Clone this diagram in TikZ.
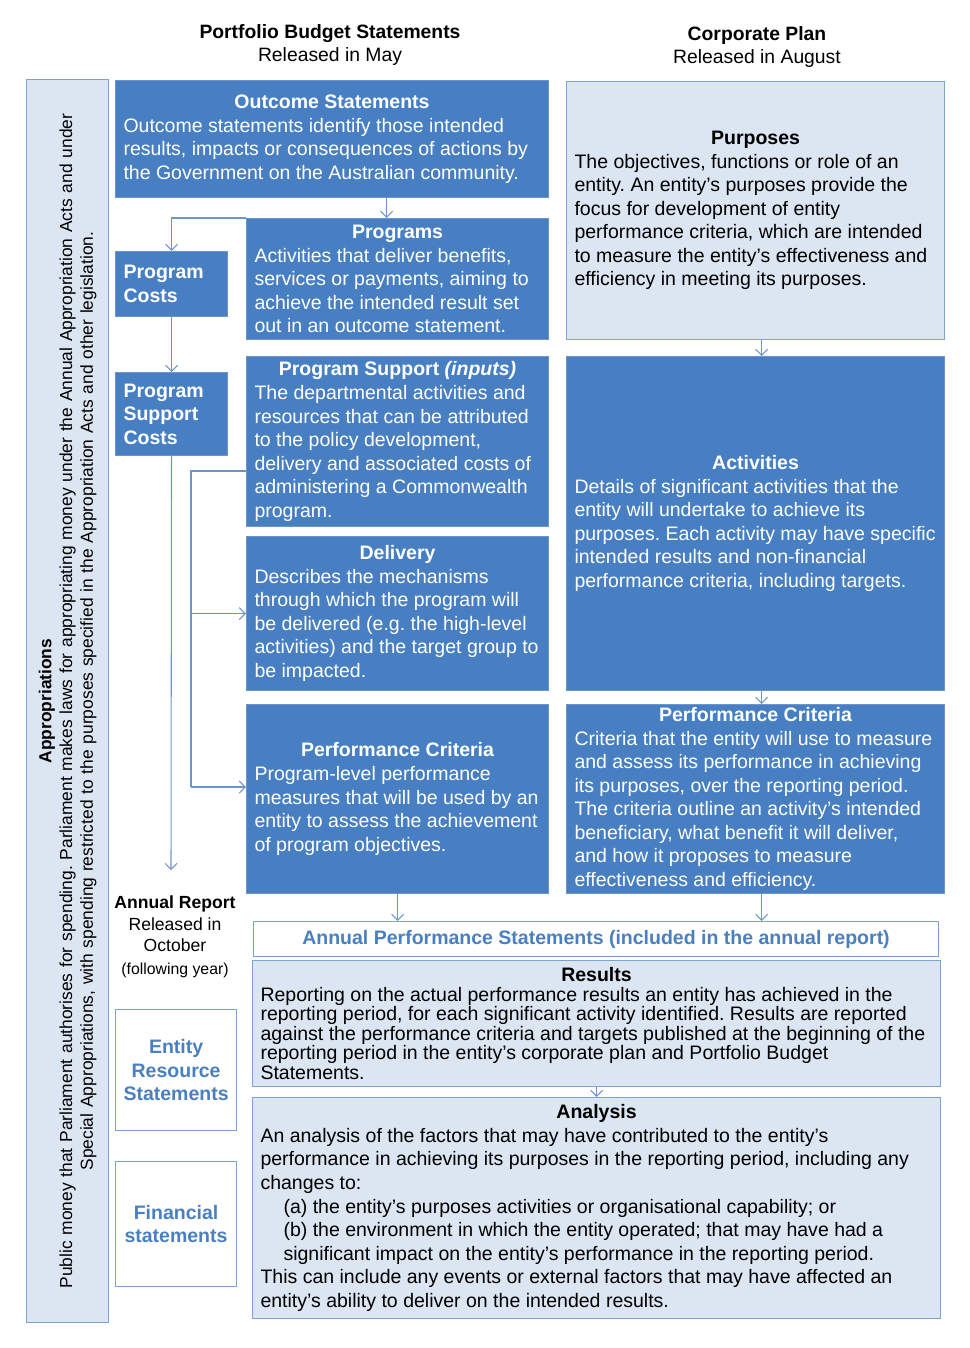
\documentclass[tikz,border=0pt]{standalone}
\usepackage{fontspec}
\setmainfont{Liberation Sans}
\usetikzlibrary{arrows.meta,positioning}
\definecolor{dkblue}{HTML}{477FC2}
\definecolor{ltblue}{HTML}{DCE6F2}
\definecolor{edgeblue}{HTML}{7EA3D2}
\definecolor{lineblue}{HTML}{6B96CD}
\definecolor{txtblue}{HTML}{4A7FC0}
\newcommand{\hd}[1]{\makebox[\linewidth]{\bfseries #1}}
\newcommand{\bodyfont}{\fontsize{11.1}{13.4}\selectfont}
\frenchspacing

\begin{document}
\begin{tikzpicture}[x=0.2mm, y=-0.2mm,
  box/.style={draw=edgeblue, line width=0.6pt, anchor=north west,
    inner xsep=1.6mm, inner ysep=0.5mm, align=flush left, font=\bodyfont},
  dark/.style={box, fill=dkblue, draw=lineblue, text=white},
  light/.style={box, fill=ltblue},
  plain/.style={box, fill=white, text=txtblue, align=center,
    font=\bodyfont\bfseries},
  head/.style={align=center, font=\fontsize{11}{13.4}\selectfont},
  link/.style={draw=lineblue, line width=0.6pt},
  arr/.style={link, -{Straight Barb[length=1.2mm, width=2.4mm]}},
]
\useasboundingbox (0,0) rectangle (970,1348);

% --- Column titles ---
\node[head] (pbs) at (330,45) {\textbf{Portfolio Budget Statements}\\Released in May};
\node[head] (cp) at (757,47) {\textbf{Corporate Plan}\\Released in August};

% --- Appropriations band ---
\node[light, minimum width=16.4mm, minimum height=248.6mm] (approp) at (26,79) {};
\node[rotate=90, align=center, font=\fontsize{9.9}{11.8}\selectfont, text width=244mm] (apptext) at (approp.center)
  {\textbf{Appropriations}\\
   Public money that Parliament authorises for spending. Parliament makes laws for appropriating money under the Annual Appropriation Acts and under\\
   Special Appropriations, with spending restricted to the purposes specified in the Appropriation Acts and other legislation.};

% --- Portfolio Budget Statements column ---
\node[dark, minimum width=86.6mm, minimum height=23.4mm, text width=83.4mm] (outcome) at (115,80)
  {\hd{Outcome Statements}\\
   Outcome statements identify those intended\\
   results, impacts or consequences of actions by\\
   the Government on the Australian community.};
\node[dark, minimum width=60.4mm, minimum height=24.2mm, text width=57.2mm] (programs) at (246,218)
  {\hd{Programs}\\
   Activities that deliver benefits,\\
   services or payments, aiming to\\
   achieve the intended result set\\
   out in an outcome statement.};
\node[dark, minimum width=22.4mm, minimum height=13mm, text width=19.2mm,
  font=\bodyfont\bfseries] (costs) at (115,251) {Program\\Costs};
\node[dark, minimum width=60.4mm, minimum height=34mm, text width=57.2mm] (support) at (246,356)
  {\hd{Program Support \textit{(inputs)}}\\
   The departmental activities and\\
   resources that can be attributed\\
   to the policy development,\\
   delivery and associated costs of\\
   administering a Commonwealth\\
   program.};
\node[dark, minimum width=22.4mm, minimum height=16.6mm, text width=19.2mm,
  font=\bodyfont\bfseries] (supcosts) at (115,372) {Program\\Support\\Costs};
\node[dark, minimum width=60.4mm, minimum height=30.8mm, text width=57.2mm] (delivery) at (246,536)
  {\hd{Delivery}\\
   Describes the mechanisms\\
   through which the program will\\
   be delivered (e.g. the high-level\\
   activities) and the target group to\\
   be impacted.};
\node[dark, minimum width=60.4mm, minimum height=37.8mm, text width=57.2mm] (pcprog) at (246,704)
  {\hd{Performance Criteria}\\
   Program-level performance\\
   measures that will be used by an\\
   entity to assess the achievement\\
   of program objectives.};

% --- Corporate Plan column ---
\node[light, minimum width=75.6mm, minimum height=51.6mm, text width=72.4mm] (purposes) at (566,81)
  {\hd{Purposes}\\
   The objectives, functions or role of an\\
   entity. An entity’s purposes provide the\\
   focus for development of entity\\
   performance criteria, which are intended\\
   to measure the entity’s effectiveness and\\
   efficiency in meeting its purposes.};
\node[dark, minimum width=75.6mm, minimum height=66.8mm, text width=72.4mm] (activities) at (566,356)
  {\hd{Activities}\\
   Details of significant activities that the\\
   entity will undertake to achieve its\\
   purposes. Each activity may have specific\\
   intended results and non-financial\\
   performance criteria, including targets.};
\node[dark, minimum width=75.6mm, minimum height=37.8mm, text width=72.4mm] (pcent) at (566,704)
  {\hd{Performance Criteria}\\
   Criteria that the entity will use to measure\\
   and assess its performance in achieving\\
   its purposes, over the reporting period.\\
   The criteria outline an activity’s intended\\
   beneficiary, what benefit it will deliver,\\
   and how it proposes to measure\\
   effectiveness and efficiency.};

% --- Annual Report ---
\node[align=center, font=\fontsize{10}{12.2}\selectfont] (annual) at (175,937)
  {\textbf{Annual Report}\\Released in\\October\\[1pt]{\fontsize{9}{11}\selectfont(following year)}};
\node[plain, minimum width=137mm, minimum height=7mm] (aps) at (253,921)
  {Annual Performance Statements (included in the annual report)};
\node[light, minimum width=137.6mm, minimum height=25.2mm, text width=134.4mm,
  font=\fontsize{11.1}{11.1}\selectfont] (results) at (252,960)
  {\hd{Results}\\
   Reporting on the actual performance results an entity has achieved in the\\
   reporting period, for each significant activity identified. Results are reported\\
   against the performance criteria and targets published at the beginning of the\\
   reporting period in the entity’s corporate plan and Portfolio Budget\\
   Statements.};
\node[light, minimum width=137.6mm, minimum height=44.2mm, text width=134.4mm] (analysis) at (252,1097)
  {\hd{Analysis}\\
   An analysis of the factors that may have contributed to the entity’s\\
   performance in achieving its purposes in the reporting period, including any\\
   changes to:\\
   \hspace*{4.6mm}(a) the entity’s purposes activities or organisational capability; or\\
   \hspace*{4.6mm}(b) the environment in which the entity operated; that may have had a\\
   \hspace*{4.6mm}significant impact on the entity’s performance in the reporting period.\\
   This can include any events or external factors that may have affected an\\
   entity’s ability to deliver on the intended results.};
\node[plain, minimum width=24.2mm, minimum height=24.2mm] (ers) at (115,1009)
  {Entity\\Resource\\Statements};
\node[plain, minimum width=24.2mm, minimum height=25mm] (fin) at (115,1161)
  {Financial\\statements};

% --- Connectors ---
\coordinate (costend) at (171,870);
\coordinate (bt) at (191,471);
\coordinate (bb) at (191,787);
\draw[arr] ([xshift=-2.2mm]outcome.south -| programs.north) -- ([xshift=-2.2mm]programs.north);
\draw[arr] (programs.north west) -| (costs.north);
\draw[arr] (costs) -- (supcosts);
\draw[arr] (supcosts.south) -- (costend);
\draw[link] (bt -| support.west) -- (bt) -- (bb);
\draw[arr] (bt |- delivery.west) -- (delivery.west);
\draw[arr] (bb) -- (bb -| pcprog.west);
\draw[arr] ([xshift=1.2mm]purposes.south) -- ([xshift=1.2mm]activities.north);
\draw[arr] ([xshift=1.2mm]activities.south) -- ([xshift=1.2mm]pcent.north);
\draw[arr] (pcprog.south) -- (pcprog.south |- aps.north);
\draw[arr] ([xshift=1.2mm]pcent.south) -- ([xshift=1.2mm]pcent.south |- aps.north);
\draw[arr] (results) -- (analysis);
\end{tikzpicture}
\end{document}
